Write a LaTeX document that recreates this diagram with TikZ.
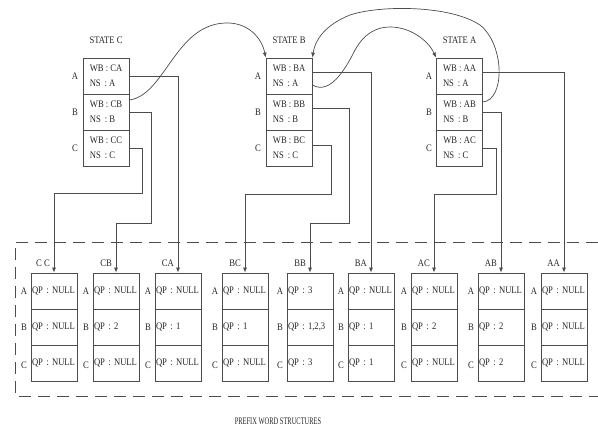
\documentclass[tikz,border=0pt]{standalone}
\usepackage{fontspec}
\setmainfont{Liberation Serif}[FakeStretch=0.86]
\usetikzlibrary{arrows.meta}
\begin{document}
\begin{tikzpicture}[x=1pt,y=-1pt,
  ln/.style={draw=black!70, line width=0.7pt},
  cellbox/.style={draw=black!70, line width=0.8pt, rectangle, minimum width=46pt, minimum height=36pt, inner sep=0pt, font=\fontsize{10}{14.5}\selectfont, text=black!85},
  statecell/.style={cellbox, align=left},
  qcell/.style={cellbox, text width=44pt, inner xsep=1pt, align=left},
  lbl/.style={font=\fontsize{10}{11}\selectfont, text=black!85, inner sep=0pt},
  arr/.style={ln, -{Latex[length=5pt,width=4pt]}},
]
\useasboundingbox (0,0) rectangle (598,432);

% ---- state boxes ----
\foreach \s/\cx/\lx in {C/106/75, B/289/258, A/459.5/429} {
  \node[lbl] (title\s) at (\cx,40) {STATE \s};
  \node[statecell] (s\s A) at (\cx,76) {WB : \s A\\NS \,: A};
  \node[statecell] (s\s B) at (\cx,112) {WB : \s B\\NS \,: B};
  \node[statecell] (s\s C) at (\cx,148) {WB : \s C\\NS \,: C};
  \node[lbl] (r\s A) at (\lx,76) {A};
  \node[lbl] (r\s B) at (\lx,112) {B};
  \node[lbl] (r\s C) at (\lx,148) {C};
}

% ---- prefix word structures ----
\draw[draw=black!70, line width=0.7pt, dash pattern=on 12pt off 7pt] (598,242) -- (15,242) -- (15,396) -- (598,396);
\node[lbl] (ptitle) at (278,421) {\scalebox{0.75}[1]{PREFIX WORD STRUCTURES}};

\foreach \n/\cx/\ra/\rb/\rc/\t in {CC/54/NULL/NULL/NULL/C C, CB/116/NULL/2/NULL/CB, CA/178/NULL/1/NULL/CA, BC/245/NULL/1/NULL/BC, BB/310/3/{1,2,3}/3/BB, BA/371/NULL/1/1/BA, AC/434/NULL/2/NULL/AC, AB/501/NULL/2/2/AB, AA/564/NULL/NULL/NULL/AA} {
  \node[qcell] (b\n) at (\cx,291) {QP : \ra};
  \node[qcell] (b\n 2) at (\cx,327) {QP : \rb};
  \node[qcell] (b\n 3) at (\cx,363) {QP : \rc};
  \node[lbl, anchor=east] (t\n) at ([xshift=-4pt]b\n.north |- 0,263) {\t};
  \node[lbl] (ra\n) at ([xshift=-30pt]b\n.center) {A};
  \node[lbl] (rb\n) at ([xshift=-30pt]b\n 2.center) {B};
  \node[lbl] (rc\n) at ([xshift=-30pt,yshift=-2pt]b\n 3.center) {C};
}

% ---- connectors from states to prefix structures ----
\draw[arr] (sCA.east) -| (bCA.north);
\draw[arr] (sCB.east) -| (151,223) -| (bCB.north);
\draw[arr] (sCC.east) -| (142,193) -| (bCC.north);
\draw[arr] ([yshift=4pt]sBA.east) -| (bBA.north);
\draw[arr] ([yshift=4pt]sBB.east) -| (349,223) -| (bBB.north);
\draw[arr] ([yshift=3pt]sBC.east) -| (331,194) -| (bBC.north);
\draw[arr] ([yshift=4pt]sAA.east) -| (bAA.north);
\draw[arr] (sAB.east) -| (bAB.north);
\draw[arr] (sAC.east) -| (496,194) -| (bAC.north);

% ---- transitions between states ----
\draw[arr] ([yshift=12pt]sCB.east) .. controls (165,95) and (175,25) .. (225,23) .. controls (248,22) and (262,38) .. (sBA.north west);
\draw[arr] ([yshift=-9pt]sBA.east) .. controls (330,95) and (345,70) .. (355,50) .. controls (365,32) and (378,27) .. (390,27) .. controls (410,27) and (428,40) .. (sAA.north west);
\draw[arr] ([yshift=10pt]sAB.east) .. controls (505,100) and (505,45) .. (480,25) .. controls (450,5) and (380,5) .. (350,15) .. controls (325,25) and (315,40) .. (sBA.north east);
\end{tikzpicture}
\end{document}
